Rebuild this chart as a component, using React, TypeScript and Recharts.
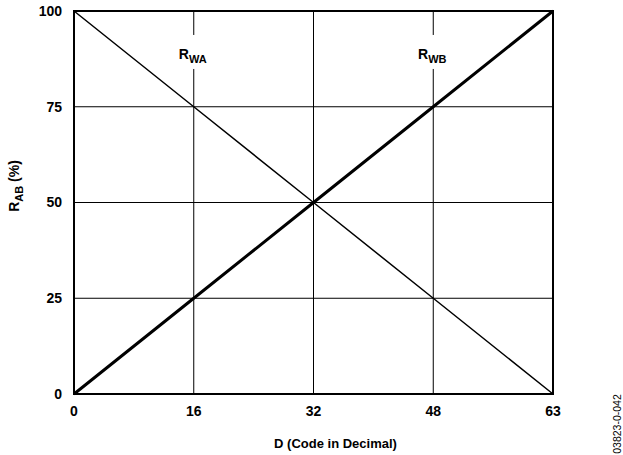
import React from 'react'
import {
  LineChart,
  Line,
  XAxis,
  YAxis,
  CartesianGrid,
  ReferenceArea,
  ReferenceDot,
  Label
} from 'recharts'

// code values (x) and wiper resistance in % of R_AB
const codes = [0, 16, 32, 48, 64]
const rwa = [100, 75, 50, 25, 0]
const rwb = [0, 25, 50, 75, 100]

const xTicks = [0, 16, 32, 48, 64]
const xTickLabels = ['0', '16', '32', '48', '63']
const yTicks = [0, 25, 50, 75, 100]

const data = codes.map((d, i) => ({ code: d, rwa: rwa[i], rwb: rwb[i] }))

const FONT = '"Liberation Sans", Arial, Helvetica, sans-serif'

const tickStyle = {
  fontFamily: FONT,
  fontSize: 14,
  fontWeight: 700,
  fill: '#000'
}

const SeriesTag = ({ cx, cy, sub }: any) => (
  <g>
    <rect x={cx - 19} y={cy - 22} width={38} height={34} fill="#fff" />
    <text
      x={cx - 1}
      y={cy + 2}
      textAnchor="middle"
      fontFamily={FONT}
      fontWeight={700}
      fontSize={14}
      fill="#000"
    >
      R
      <tspan dy={4} fontSize={11}>
        {sub}
      </tspan>
    </text>
  </g>
)

const XTitle = ({ viewBox }: any) => {
  const { x, width } = viewBox
  return (
    <g>
      <text
        x={x + width / 2 + 22}
        y={448}
        textAnchor="middle"
        fontFamily={FONT}
        fontWeight={700}
        fontSize={13}
        fill="#000"
      >
        D (Code in Decimal)
      </text>
      <text
        x={621}
        y={424}
        transform="rotate(-90 621 424)"
        textAnchor="middle"
        fontFamily={FONT}
        fontSize={10.5}
        fill="#000"
      >
        03823-0-042
      </text>
    </g>
  )
}

const YTitle = () => (
  <text
    x={19}
    y={186}
    transform="rotate(-90 19 186)"
    textAnchor="middle"
    fontFamily={FONT}
    fontWeight={700}
    fontSize={14}
    fill="#000"
  >
    R
    <tspan dy={4} fontSize={11}>
      AB
    </tspan>
    <tspan dy={-4}> (%)</tspan>
  </text>
)

export default function App() {
  return (
    <div
      style={{
        position: 'absolute',
        left: 0,
        top: 0,
        width: 623,
        height: 455,
        background: '#fff'
      }}
    >
      <LineChart
        width={623}
        height={455}
        data={data}
        margin={{ top: 11, right: 70, left: 14, bottom: 31 }}
      >
        <CartesianGrid stroke="#000" strokeWidth={1} />
        <XAxis
          dataKey="code"
          type="number"
          domain={[0, 64]}
          ticks={xTicks}
          tickFormatter={(v: number) => xTickLabels[xTicks.indexOf(v)]}
          tick={tickStyle}
          tickLine={false}
          axisLine={false}
          tickSize={0}
          tickMargin={12}
          height={30}
          interval={0}
        >
          <Label content={<XTitle />} />
        </XAxis>
        <YAxis
          type="number"
          domain={[0, 100]}
          ticks={yTicks}
          tick={tickStyle}
          tickLine={false}
          axisLine={false}
          tickSize={0}
          tickMargin={12}
          width={60}
          interval={0}
        >
          <Label content={<YTitle />} />
        </YAxis>
        <ReferenceArea
          x1={0}
          x2={64}
          y1={0}
          y2={100}
          fill="none"
          fillOpacity={0}
          stroke="#000"
          strokeWidth={2}
        />
        <ReferenceDot x={16} y={88} r={0} shape={<SeriesTag sub="WA" />} />
        <ReferenceDot x={48} y={88} r={0} shape={<SeriesTag sub="WB" />} />
        <Line
          type="linear"
          dataKey="rwa"
          stroke="#000"
          strokeWidth={1.5}
          dot={false}
          isAnimationActive={false}
        />
        <Line
          type="linear"
          dataKey="rwb"
          stroke="#000"
          strokeWidth={3}
          dot={false}
          isAnimationActive={false}
        />
      </LineChart>
    </div>
  )
}
